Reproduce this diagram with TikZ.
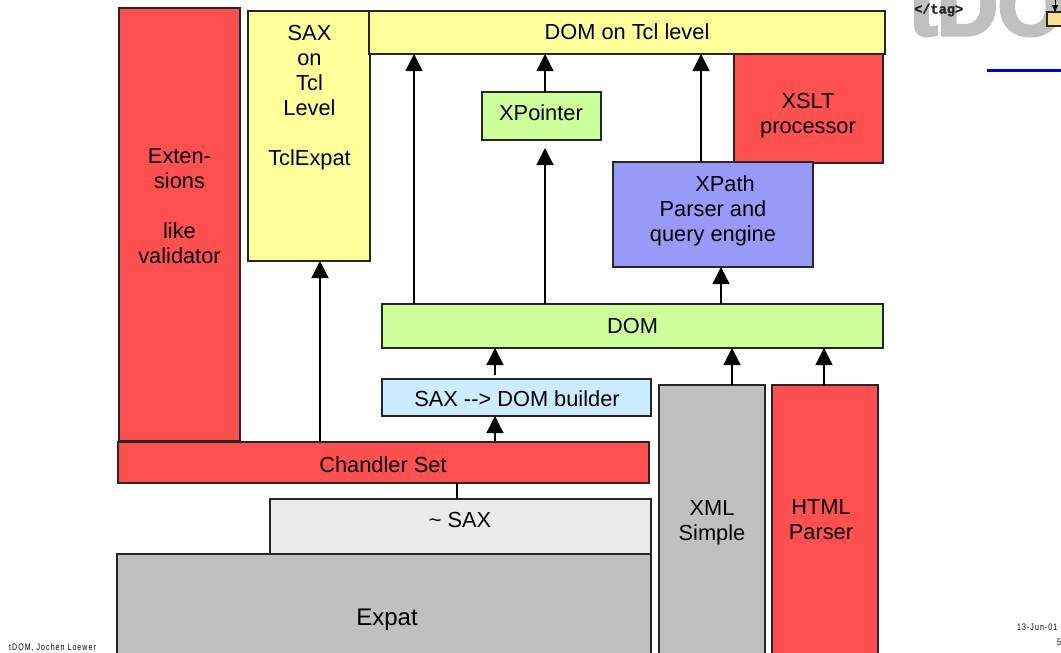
\documentclass[tikz,border=0pt]{standalone}
\usepackage{fontspec}
\usetikzlibrary{arrows.meta}
\setmainfont{Liberation Sans}
\newfontfamily\smallspaced[LetterSpace=11,FakeStretch=0.74]{Liberation Sans}
\newfontfamily\tagfont[FakeBold=1.5]{Liberation Mono Bold}
\newfontfamily\logofont[FakeBold=4]{Liberation Sans Bold}
\definecolor{cred}{HTML}{FF5050}
\definecolor{cyellow}{HTML}{FFFF99}
\definecolor{cgreen}{HTML}{CCFF99}
\definecolor{cblue}{HTML}{CCECFF}
\definecolor{cpurple}{HTML}{9999F8}
\definecolor{cgrey}{HTML}{C0C0C0}
\definecolor{clight}{HTML}{EAEAEA}
\definecolor{corange}{HTML}{FFE090}
\definecolor{clink}{HTML}{0000E6}
\newcommand{\blockbox}[6]{%
  \pgfmathsetmacro{\bw}{#4-#2}\pgfmathsetmacro{\bh}{#5-#3}%
  \node[blockshape,fill=#6,minimum width=\bw pt,minimum height=\bh pt,anchor=north west] (#1) at (#2,#3) {};}
\tikzset{
  blockshape/.style={draw=black!85,line width=1.3pt,inner sep=0pt,outer sep=0pt,rectangle},
  blocktext/.style={align=center,font=\fontsize{21.8}{25}\selectfont,text=black,inner sep=0pt},
  arr/.style={draw=black,line width=1.3pt,-{Triangle[width=17pt,length=17pt]},shorten >=0pt},
  plainline/.style={draw=black,line width=1.3pt},
  foot/.style={font=\smallspaced\fontsize{9.5}{9.5}\selectfont,inner sep=0pt,anchor=base west}
}
\begin{document}
\begin{tikzpicture}[x=1pt,y=-1pt]
\useasboundingbox (0,0) rectangle (1061,653);
\clip (0,0) rectangle (1061,653);
% logo
\node[font=\logofont\fontsize{84}{84}\selectfont,text=cgrey,anchor=base west,inner sep=0pt] (logo) at (909,35) {tDOM};
\node[font=\tagfont\fontsize{13.6}{14}\selectfont,text=black!85,anchor=base west,inner sep=0pt] (tag) at (914,13.5) {</tag>};
\blockbox{tagbox}{1047}{12}{1070}{26}{corange}
\coordinate (tagtop) at (1055,-2);
\draw[draw=black,line width=1pt,-{Triangle[width=6pt,length=7pt]}] (tagtop) -- (tagbox.north -| tagtop);
\coordinate (rulea) at (987,70.5);
\coordinate (ruleb) at (1061,70.5);
\draw[draw=clink,line width=2.6pt] (rulea) -- (ruleb);
% blocks
\blockbox{ext}{119}{8}{240}{441}{cred}
\blockbox{saxtcl}{248}{11}{370}{261}{cyellow}
\blockbox{domtcl}{369}{11}{885}{54}{cyellow}
\blockbox{xslt}{734}{54}{883}{163}{cred}
\blockbox{xpointer}{482}{92}{601}{140}{cgreen}
\blockbox{xpath}{613}{162}{813}{267}{cpurple}
\blockbox{dom}{382}{304}{883}{348}{cgreen}
\blockbox{builder}{382}{379}{651}{416}{cblue}
\blockbox{chandler}{118}{442}{649}{483}{cred}
\blockbox{sax}{270}{499}{651}{554}{clight}
\blockbox{expat}{117}{554}{651}{690}{cgrey}
\blockbox{xml}{659}{385}{765}{690}{cgrey}
\blockbox{html}{772}{385}{878}{690}{cred}
% texts
\node[blocktext] (textext) at (179.5,206) {Exten-\\sions\\[25pt]like\\validator};
\node[blocktext] (textsax) at (309.5,98) {SAX\\on\\Tcl\\Level\\[25pt]TclExpat};
\node[blocktext] (textdomtcl) at (627,32) {DOM on Tcl level};
\node[blocktext] (textxslt) at (808,116) {XSLT\\processor};
\node[blocktext] (textxpointer) at (541,113) {XPointer};
\node[blocktext] (textxpath) at (713,211) {\hspace*{24pt}XPath\\Parser and\\query engine};
\node[blocktext] (textdom) at (632.5,326) {DOM};
\node[blocktext] (textbuilder) at (517,399) {SAX -{}-{}> DOM builder};
\node[blocktext] (textchandler) at (383,465) {Chandler Set};
\node[blocktext] (textsaxl) at (460,520) {\textasciitilde{} SAX};
\node[blocktext,font=\fontsize{24}{27}\selectfont] (textexpat) at (387,620) {Expat};
\node[blocktext] (textxml) at (712,523) {XML\\Simple};
\node[blocktext] (texthtml) at (821,520) {HTML\\Parser};
% connector columns
\coordinate (c320) at (320,0);
\coordinate (c414) at (414,0);
\coordinate (c457) at (457,0);
\coordinate (c495) at (495,0);
\coordinate (c545) at (545,0);
\coordinate (c701) at (701,0);
\coordinate (c721) at (721,0);
\coordinate (c732) at (732,0);
\coordinate (c824) at (824,0);
\coordinate (xpgap) at (545,148);
\coordinate (bldtop) at (495,375);
% connectors
\draw[arr] (chandler.north -| c320) -- (saxtcl.south -| c320);
\draw[arr] (dom.north -| c414) -- (domtcl.south -| c414);
\draw[arr] (xpointer.north -| c545) -- (domtcl.south -| c545);
\draw[arr] (xpath.north -| c701) -- (domtcl.south -| c701);
\draw[arr] (dom.north -| c545) -- (xpgap);
\draw[arr] (dom.north -| c721) -- (xpath.south -| c721);
\draw[arr] (bldtop) -- (dom.south -| c495);
\draw[arr] (chandler.north -| c495) -- (builder.south -| c495);
\draw[arr] (xml.north -| c732) -- (dom.south -| c732);
\draw[arr] (html.north -| c824) -- (dom.south -| c824);
\draw[plainline] (chandler.south -| c457) -- (sax.north -| c457);
% footer
\node[foot] (footl) at (9,650) {tDOM, Jochen Loewer};
\node[foot] (footd) at (1017,630) {13-Jun-01};
\node[foot] (footp) at (1057,645) {5};
\end{tikzpicture}
\end{document}
